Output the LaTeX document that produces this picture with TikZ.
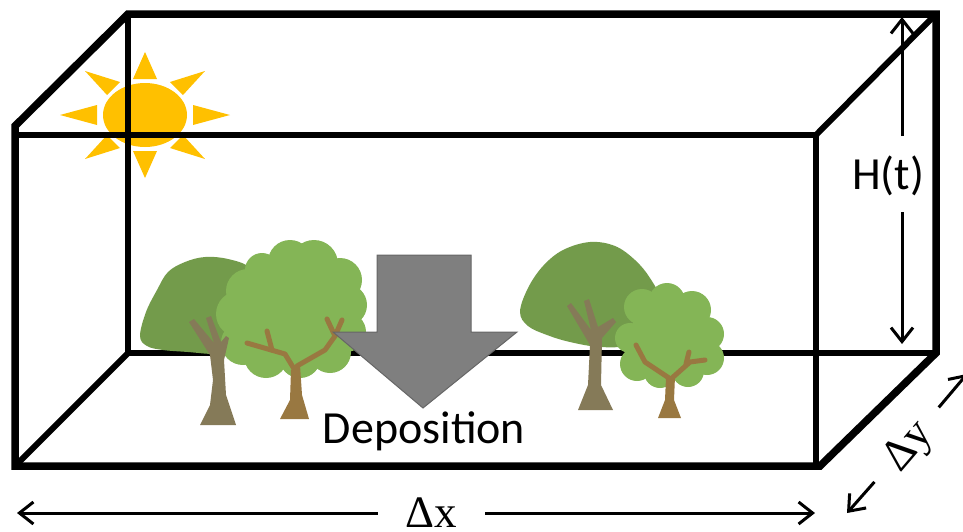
\documentclass[tikz,border=0pt]{standalone}
\usepackage{fontspec}
\newfontfamily\labelfont{Carlito}
\newfontfamily\symfont{Liberation Serif}
\usetikzlibrary{arrows.meta}
\definecolor{sungold}{HTML}{FFC000}
\definecolor{leafdark}{HTML}{739B4B}
\definecolor{leaflight}{HTML}{84B556}
\definecolor{barkgrey}{HTML}{857A58}
\definecolor{barkbrown}{HTML}{997841}
\definecolor{depgrey}{HTML}{7F7F7F}
\definecolor{depedge}{HTML}{666666}
\tikzset{
  outeredge/.style={line width=7.5pt, line join=miter},
  inneredge/.style={line width=6pt},
  dimline/.style={line width=3pt, -{Straight Barb[length=14pt,width=22pt,line width=3pt]}},
  sans label/.style={font=\labelfont\fontsize{46}{46}\selectfont, inner sep=0pt},
  sym label/.style={font=\symfont\fontsize{45}{45}\selectfont, inner sep=0pt,
                    text height=30pt, text depth=2pt},
  ray/.style={fill=sungold},
  twig/.style={draw=barkbrown, line width=5pt, line cap=round, line join=round},
}
\begin{document}
\begin{tikzpicture}[x=1pt,y=-1pt]
\useasboundingbox (0,0) rectangle (963,531);

% --- sun ---
\begin{scope}[shift={(145,115)}]
  \fill[sungold] (0,0) ellipse [x radius=42, y radius=32];
  \fill[ray] (-12,-36) -- (0,-63) -- (12,-36) -- cycle;
  \fill[ray] (-12,36) -- (0,63) -- (12,36) -- cycle;
  \fill[ray] (-48,-10) -- (-85,0) -- (-48,10) -- cycle;
  \fill[ray] (48,-10) -- (85,0) -- (48,10) -- cycle;
  \fill[ray] (-25,-33) -- (-60,-44) -- (-38,-20) -- cycle;
  \fill[ray] (25,-33) -- (60,-44) -- (38,-20) -- cycle;
  \fill[ray] (-25,33) -- (-60,44) -- (-38,20) -- cycle;
  \fill[ray] (25,33) -- (60,44) -- (38,20) -- cycle;
\end{scope}

% --- box corners ---
\coordinate (fTL) at (15,135);
\coordinate (fTR) at (816,135);
\coordinate (fBL) at (15,466);
\coordinate (fBR) at (820,466);
\coordinate (bTL) at (128,14);
\coordinate (bTR) at (936,14);
\coordinate (bBL) at (128,353);
\coordinate (bBR) at (936,353);
\coordinate (cornerL) at (15,126);

% inner edges
\draw[inneredge] (fTL) -- (fTR) -- (816,466);
\draw[inneredge] (bTL) -- (bBL) -- (bBR);
\draw[inneredge] (fTR) -- (bTR);
\draw[inneredge] (bBL) -- (fBL);
% silhouette
\draw[outeredge] (fBL) -- (cornerL) -- (bTL) -- (bTR) -- (bBR) -- (fBR) -- cycle;

% --- left pair of trees ---
\fill[leafdark] plot[smooth cycle, tension=0.6] coordinates {
  (140,336) (146,312) (157,290) (168,272) (185,262) (205,257) (228,259) (250,268)
  (262,292) (262,330) (245,352) (215,354) (188,352) (163,350) (147,346)};
\begin{scope}[fill=leaflight]
  \fill (292,312) circle (54);
  \fill (262,270) circle (17);
  \fill (290,262) circle (22);
  \fill (314,264) circle (24);
  \fill (340,280) circle (22);
  \fill (346,305) circle (21);
  \fill (346,332) circle (20);
  \fill (330,352) circle (21);
  \fill (300,357) circle (21);
  \fill (266,356) circle (22);
  \fill (243,343) circle (22);
  \fill (239,314) circle (23);
  \fill (248,291) circle (22);
\end{scope}
% grey trunk in front
\fill[barkgrey] (200,425) -- (210,405) -- (213,380) -- (210,355) -- (189,322)
  -- (194,319) -- (214,343) -- (206,318) -- (211,316) -- (221,342) -- (226,336)
  -- (229,338) -- (224,360) -- (226,395) -- (236,425) -- cycle;
% brown trunk and branches
\fill[barkbrown] (280,419) -- (290,400) -- (291,370) -- (300,365) -- (302,395) -- (309,419) -- cycle;
\draw[twig] (296,372) -- (285,354) -- (247,343);
\draw[twig] (272,350) -- (267,331);
\draw[twig] (297,366) -- (325,350) -- (335,336) -- (342,320);
\draw[twig] (335,336) -- (327,319);

% --- right pair of trees ---
\fill[leafdark] plot[smooth cycle, tension=0.6] coordinates {
  (520,312) (528,288) (543,266) (563,250) (590,242) (615,246) (635,260)
  (650,278) (660,300) (655,330) (630,345) (600,347) (570,342) (547,335) (528,326)};
\fill[barkgrey] (578,410) -- (588,385) -- (590,345) -- (567,306) -- (571,303)
  -- (591,330) -- (584,301) -- (589,299) -- (598,327) -- (613,318) -- (616,322)
  -- (602,338) -- (601,385) -- (613,410) -- cycle;
\begin{scope}[fill=leaflight]
  \fill (670,338) circle (40);
  \fill (642,307) circle (18);
  \fill (667,301) circle (18);
  \fill (692,310) circle (19);
  \fill (707,334) circle (17);
  \fill (707,358) circle (17);
  \fill (688,371) circle (16);
  \fill (660,372) circle (16);
  \fill (637,364) circle (17);
  \fill (630,338) circle (15);
\end{scope}
\fill[barkbrown] (658,418) -- (665,400) -- (666,378) -- (675,376) -- (674,400) -- (681,418) -- cycle;
\draw[twig] (669,378) -- (645,362) -- (636,345);
\draw[twig] (672,378) -- (690,362) -- (705,360);
\draw[twig] (686,364) -- (689,352);

% --- deposition arrow ---
\draw[depedge, fill=depgrey, line width=1pt, line join=miter]
  (377,255) -- (471,255) -- (471,332) -- (517,332) -- (423,408)
  -- (333,332) -- (377,332) -- cycle;
\node[sans label, anchor=base] (dep) at (424,443) {Deposition};

% --- height H(t) ---
\node[sans label] (ht) at (888,176) {H(t)};
\coordinate (htA) at (902,136);
\coordinate (htB) at (902,212);
\coordinate (htTop) at (902,17);
\coordinate (htBot) at (902,344);
\draw[dimline] (htA) -- (htTop);
\draw[dimline] (htB) -- (htBot);

% --- width dx ---
\node[sym label, minimum width=107pt] (dx) at (431.5,513) {Δx};
\coordinate (dxL) at (17,513);
\coordinate (dxR) at (815,513);
\draw[dimline] (dx) -- (dxL);
\draw[dimline] (dx) -- (dxR);

% --- depth dy ---
\node[sym label, minimum width=98pt, rotate=49.5] (dy) at (907,445) {Δy};
\coordinate (dyL) at (847,513);
\coordinate (dyR) at (967,374);
\draw[dimline] (dy) -- (dyL);
\draw[dimline] (dy) -- (dyR);
\end{tikzpicture}
\end{document}
